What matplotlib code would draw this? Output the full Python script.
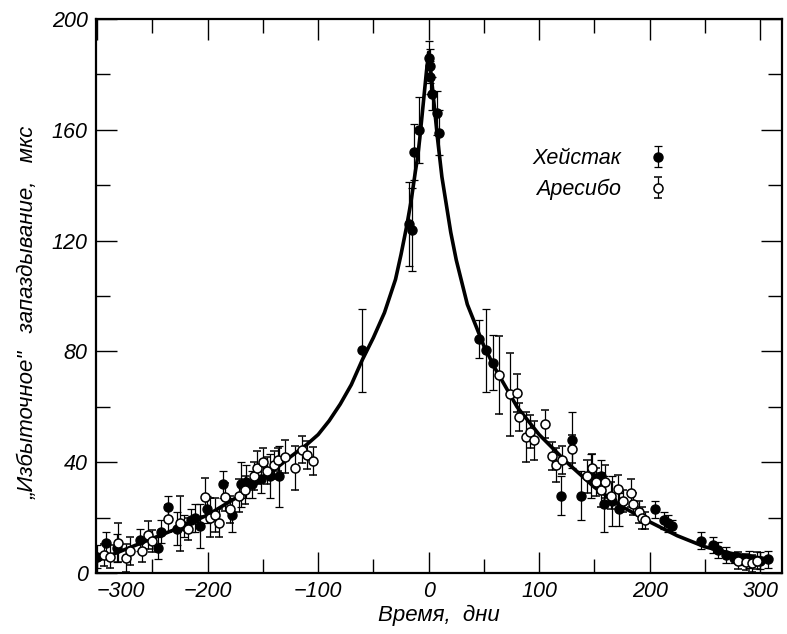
# Excess radar echo delay (Haystack + Arecibo) vs. time from superior conjunction,
# with the theoretical curve drawn through the points.

import matplotlib
matplotlib.use("Agg")
import matplotlib.pyplot as plt
from matplotlib.ticker import MultipleLocator

# theoretical curve (days, microseconds)
curve_t = [-300, -275, -250, -225, -200, -175, -150, -125, -110, -100, -90, -80, -70,
           -60, -50, -40, -30, -25, -20, -16, -12, -10, -8, -6, -4, -2, 0,
           2, 4, 6, 8, 10, 12, 16, 20, 25, 30, 35, 40, 45, 50, 60, 70, 80, 90,
           100, 125, 150, 175, 200, 225, 250, 275, 300, 310]
curve_dt = [4.5, 8.5, 12.5, 16.5, 21, 27, 34, 42, 46.5, 50, 55, 61, 68,
            77, 85, 94, 106, 115, 125, 134, 145, 150, 157, 165, 173, 181, 188,
            181, 173, 165, 157, 150, 143, 133, 123, 113, 105, 97, 92, 87, 82, 74, 67, 60, 55,
            50, 40, 31, 24, 18.5, 13.5, 9.5, 7, 5.5, 5]

# Haystack (filled)
hay_t = [-300, -292, -282, -261, -245, -242, -236, -228, -221, -215, -211, -207,
         -201, -186, -178, -170, -165, -160, -152, -144, -135,
         -60, -18, -15, -13, -9, 0, 1, 1.5, 3, 8, 9,
         46, 52, 58, 119.6, 129.5, 137.6, 147, 155.7, 158.7, 166, 172,
         205, 213, 217, 220, 246, 257, 262, 269, 276, 283, 290, 300, 307]
hay_dt = [6, 11, 9, 12, 9, 15, 24, 16, 17, 19, 20, 17,
          23, 32, 21, 32, 33, 32, 34, 35, 35,
          80.5, 126, 124, 152, 160, 186, 183, 179, 173, 166, 159,
          84.5, 80.5, 76, 28, 48, 28, 35, 35, 25, 26, 23,
          23, 19, 18, 17, 11.7, 10.1, 8.3, 6.5, 5.5, 5, 5, 4.5, 5]
hay_err = [4, 4, 5, 4, 4, 4, 4, 6, 4, 4, 5, 8,
           5, 5, 6, 8, 6, 5, 5, 8, 11,
           15, 15, 15, 10, 12, 6, 6, 6, 6, 8, 8,
           7, 15, 10, 7, 10, 9, 8, 6, 10, 9, 6,
           3, 3, 3, 2, 3, 3, 3, 3, 2, 2, 3, 3, 3]

# Arecibo (open)
are_t = [-294, -288, -281, -274, -270, -259, -254, -250, -236, -225, -218,
         -202, -198, -193, -190, -184, -180, -172, -166, -158, -155, -150,
         -146, -140, -136, -130, -121, -115, -110, -105,
         64, 73.6, 79.6, 81.4, 88, 92, 95.5, 105.4, 112, 115, 121, 129.5,
         143.7, 148, 151, 156, 160, 165, 171.7, 176, 182.8, 185, 190, 193, 196,
         280, 287, 293, 297]
are_dt = [6.5, 6, 11, 5.5, 8, 8, 13.7, 11.5, 19.7, 18, 16,
          27.5, 20, 21, 18, 27.5, 23, 28, 30, 35, 38, 40,
          37, 39, 41, 42, 38, 44.6, 42.6, 40.5,
          71.5, 64.5, 65, 56.4, 49, 51, 48, 53.8, 42.3, 39, 40.8, 44.7,
          35, 38, 33, 30, 33, 28, 30.3, 26, 29, 25, 22, 20, 19,
          4.5, 4, 3.5, 4.5]
are_err = [4, 4, 7, 5, 5, 4, 5, 4, 5, 10, 4,
           7, 7, 6, 5, 5, 5, 6, 5, 5, 6, 5,
           5, 5, 4, 6, 8, 5, 5, 5,
           14, 15, 7, 5, 9, 6, 7, 5, 5, 6, 5, 5,
           6, 5, 5, 6, 6, 5, 5, 4, 5, 4, 4, 4, 3,
           3, 3, 3, 3]

FONT = "Liberation Sans"


def main():
    plt.rcParams["font.family"] = [FONT, "DejaVu Sans"]
    fig = plt.figure(figsize=(7.87, 6.34), dpi=100)
    ax = fig.add_axes([0.122, 0.096, 0.872, 0.874])

    ax.plot(curve_t, curve_dt, color="black", lw=2.6, zorder=2,
            solid_joinstyle="round")
    ax.errorbar(hay_t, hay_dt, yerr=hay_err, fmt="o", ms=6.5, color="black",
                mfc="black", mec="black", elinewidth=0.9, capsize=2.8,
                capthick=0.9, zorder=3, label="Хейстак")
    ax.errorbar(are_t, are_dt, yerr=are_err, fmt="o", ms=6.5, color="black",
                mfc="white", mec="black", mew=1.1, elinewidth=0.9, capsize=2.8,
                capthick=0.9, zorder=3, label="Аресибо")

    ax.set_xlim(-301, 320)
    ax.set_ylim(0, 200)
    ax.set_xticks([-300, -200, -100, 0, 100, 200, 300])
    ax.xaxis.set_minor_locator(MultipleLocator(50))
    ax.set_yticks([0, 40, 80, 120, 160, 200])
    ax.yaxis.set_minor_locator(MultipleLocator(20))
    ax.tick_params(which="both", direction="in", top=True, right=True,
                   width=1.0, labelsize=15.5)
    ax.tick_params(which="major", length=15, pad=6)
    ax.tick_params(which="minor", length=10)
    for lab in ax.get_xticklabels() + ax.get_yticklabels():
        lab.set_fontstyle("italic")
    ax.get_xticklabels()[0].set_horizontalalignment("left")
    for sp in ax.spines.values():
        sp.set_linewidth(1.6)

    ax.set_xlabel("Время,  дни", fontsize=16, fontstyle="italic", labelpad=2)
    ax.set_ylabel("„Избыточное\"   запаздывание,   мкс", fontsize=16,
                  fontstyle="italic")
    ax.yaxis.set_label_coords(-0.083, 0.47)

    leg = ax.legend(loc="center", bbox_to_anchor=(0.735, 0.72), frameon=False,
                    markerfirst=False, fontsize=15.5, handlelength=1.0,
                    handletextpad=1.2, labelspacing=0.45)
    for t in leg.get_texts():
        t.set_fontstyle("italic")

    fig.savefig("out.png", dpi=100)
    plt.close(fig)


if __name__ == "__main__":
    main()
